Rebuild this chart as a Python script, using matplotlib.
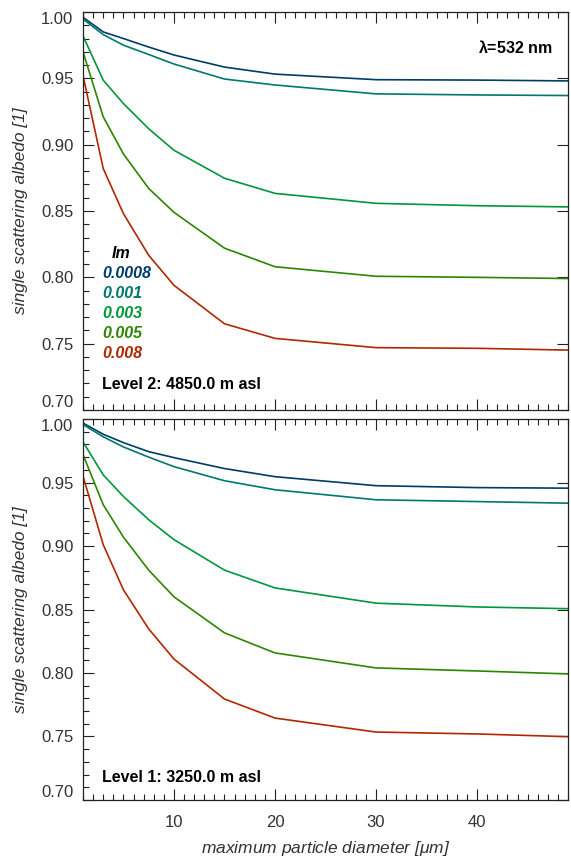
import numpy as np
import matplotlib.pyplot as plt
from matplotlib.ticker import MultipleLocator

plt.rcParams['font.family'] = ['Liberation Sans', 'DejaVu Sans']
plt.rcParams['mathtext.fontset'] = 'custom'
plt.rcParams['mathtext.it'] = 'Liberation Sans:italic'
plt.rcParams['mathtext.rm'] = 'Liberation Sans'
plt.rcParams['mathtext.bf'] = 'Liberation Sans:bold'

# maximum particle diameter [um]
diam = [1, 3, 5, 7.5, 10, 15, 20, 30, 40, 50]
im_labels = ['0.0008', '0.001', '0.003', '0.005', '0.008']
colors = ['#003c68', '#00786c', '#00963c', '#2c8600', '#b02800']

# Level 2: 4850.0 m asl
ssa_level2 = [
    [0.996, 0.985, 0.980, 0.9736, 0.9676, 0.9585, 0.9532, 0.949, 0.9487, 0.948],
    [0.9947, 0.983, 0.975, 0.968, 0.9608, 0.9495, 0.945, 0.9383, 0.9375, 0.937],
    [0.982, 0.9486, 0.931, 0.912, 0.8958, 0.8747, 0.8633, 0.8558, 0.854, 0.853],
    [0.970, 0.921, 0.893, 0.867, 0.849, 0.822, 0.808, 0.8008, 0.800, 0.799],
    [0.952, 0.882, 0.848, 0.8166, 0.794, 0.765, 0.754, 0.747, 0.7465, 0.745],
]
# Level 1: 3250.0 m asl
ssa_level1 = [
    [0.9968, 0.988, 0.9814, 0.9743, 0.9696, 0.961, 0.9546, 0.9475, 0.946, 0.9455],
    [0.9956, 0.986, 0.978, 0.970, 0.9625, 0.9514, 0.9443, 0.9364, 0.935, 0.9336],
    [0.982, 0.956, 0.939, 0.9207, 0.905, 0.881, 0.867, 0.855, 0.852, 0.8505],
    [0.972, 0.9325, 0.907, 0.881, 0.860, 0.8316, 0.8158, 0.804, 0.8016, 0.799],
    [0.955, 0.901, 0.8655, 0.8347, 0.811, 0.7795, 0.7645, 0.7535, 0.752, 0.7496],
]
yticks = [0.70, 0.75, 0.80, 0.85, 0.90, 0.95, 1.00]

fig = plt.figure(figsize=(5.71, 8.59), dpi=100)
ax_top = fig.add_axes([0.1454, 0.5227, 0.8494, 0.4633])
ax_bot = fig.add_axes([0.1454, 0.0687, 0.8494, 0.4435])


def style_axis(ax, show_xlabels):
    ax.set_xlim(1, 49)
    ax.set_ylim(0.70, 1.00)
    ax.xaxis.set_major_locator(MultipleLocator(10))
    ax.xaxis.set_minor_locator(MultipleLocator(1))
    ax.set_yticks(yticks)
    ax.set_yticklabels(['%.2f' % v for v in yticks])
    ax.yaxis.set_minor_locator(MultipleLocator(0.01))
    ax.tick_params(which='both', direction='in', top=True, right=True,
                   colors='#222222', labelcolor='#333333', width=0.8)
    ax.tick_params(which='major', length=8, labelsize=12)
    ax.tick_params(which='minor', length=4)
    ax.tick_params(axis='y', which='minor', right=False)
    ax.tick_params(axis='y', pad=7)
    ax.tick_params(axis='x', pad=11)
    if not show_xlabels:
        ax.tick_params(axis='x', labelbottom=False)
    for s in ax.spines.values():
        s.set_color('#222222')
        s.set_linewidth(0.9)
    ax.set_ylabel('single scattering albedo [1]', fontsize=12.5, style='italic',
                  color='#333333', labelpad=9)
    # keep the end labels inside the panel, as in the original
    for lab in ax.get_yticklabels():
        if lab.get_text() == '0.70':
            lab.set_va('bottom')
        elif lab.get_text() == '1.00':
            lab.set_va('top')


for ax, data, show in [(ax_top, ssa_level2, False), (ax_bot, ssa_level1, True)]:
    for vals, c in zip(data, colors):
        ax.plot(diam, vals, color=c, lw=1.2)
    style_axis(ax, show)

ax_top.text(0.967, 0.912, r'$\mathbf{\lambda}$=532 nm', transform=ax_top.transAxes,
            ha='right', va='center', fontsize=11.5, fontweight='bold')
ax_top.text(0.06, 0.394, 'Im', transform=ax_top.transAxes, ha='left', va='center',
            fontsize=11.5, style='italic', fontweight='bold')
for i, (lab, c) in enumerate(zip(im_labels, colors)):
    ax_top.text(0.039, 0.344 - i * 0.0503, lab, transform=ax_top.transAxes,
                ha='left', va='center', fontsize=11.5, style='italic',
                fontweight='bold', color=c)
ax_top.text(0.039, 0.063, 'Level 2: 4850.0 m asl', transform=ax_top.transAxes,
            ha='left', va='center', fontsize=11.5, fontweight='bold')
ax_bot.text(0.039, 0.06, 'Level 1: 3250.0 m asl', transform=ax_bot.transAxes,
            ha='left', va='center', fontsize=11.5, fontweight='bold')

ax_bot.set_xlabel(r'maximum particle diameter [$\mu$m]', fontsize=12.5, style='italic',
                  color='#333333', labelpad=6)

fig.savefig('out.png', dpi=100)
